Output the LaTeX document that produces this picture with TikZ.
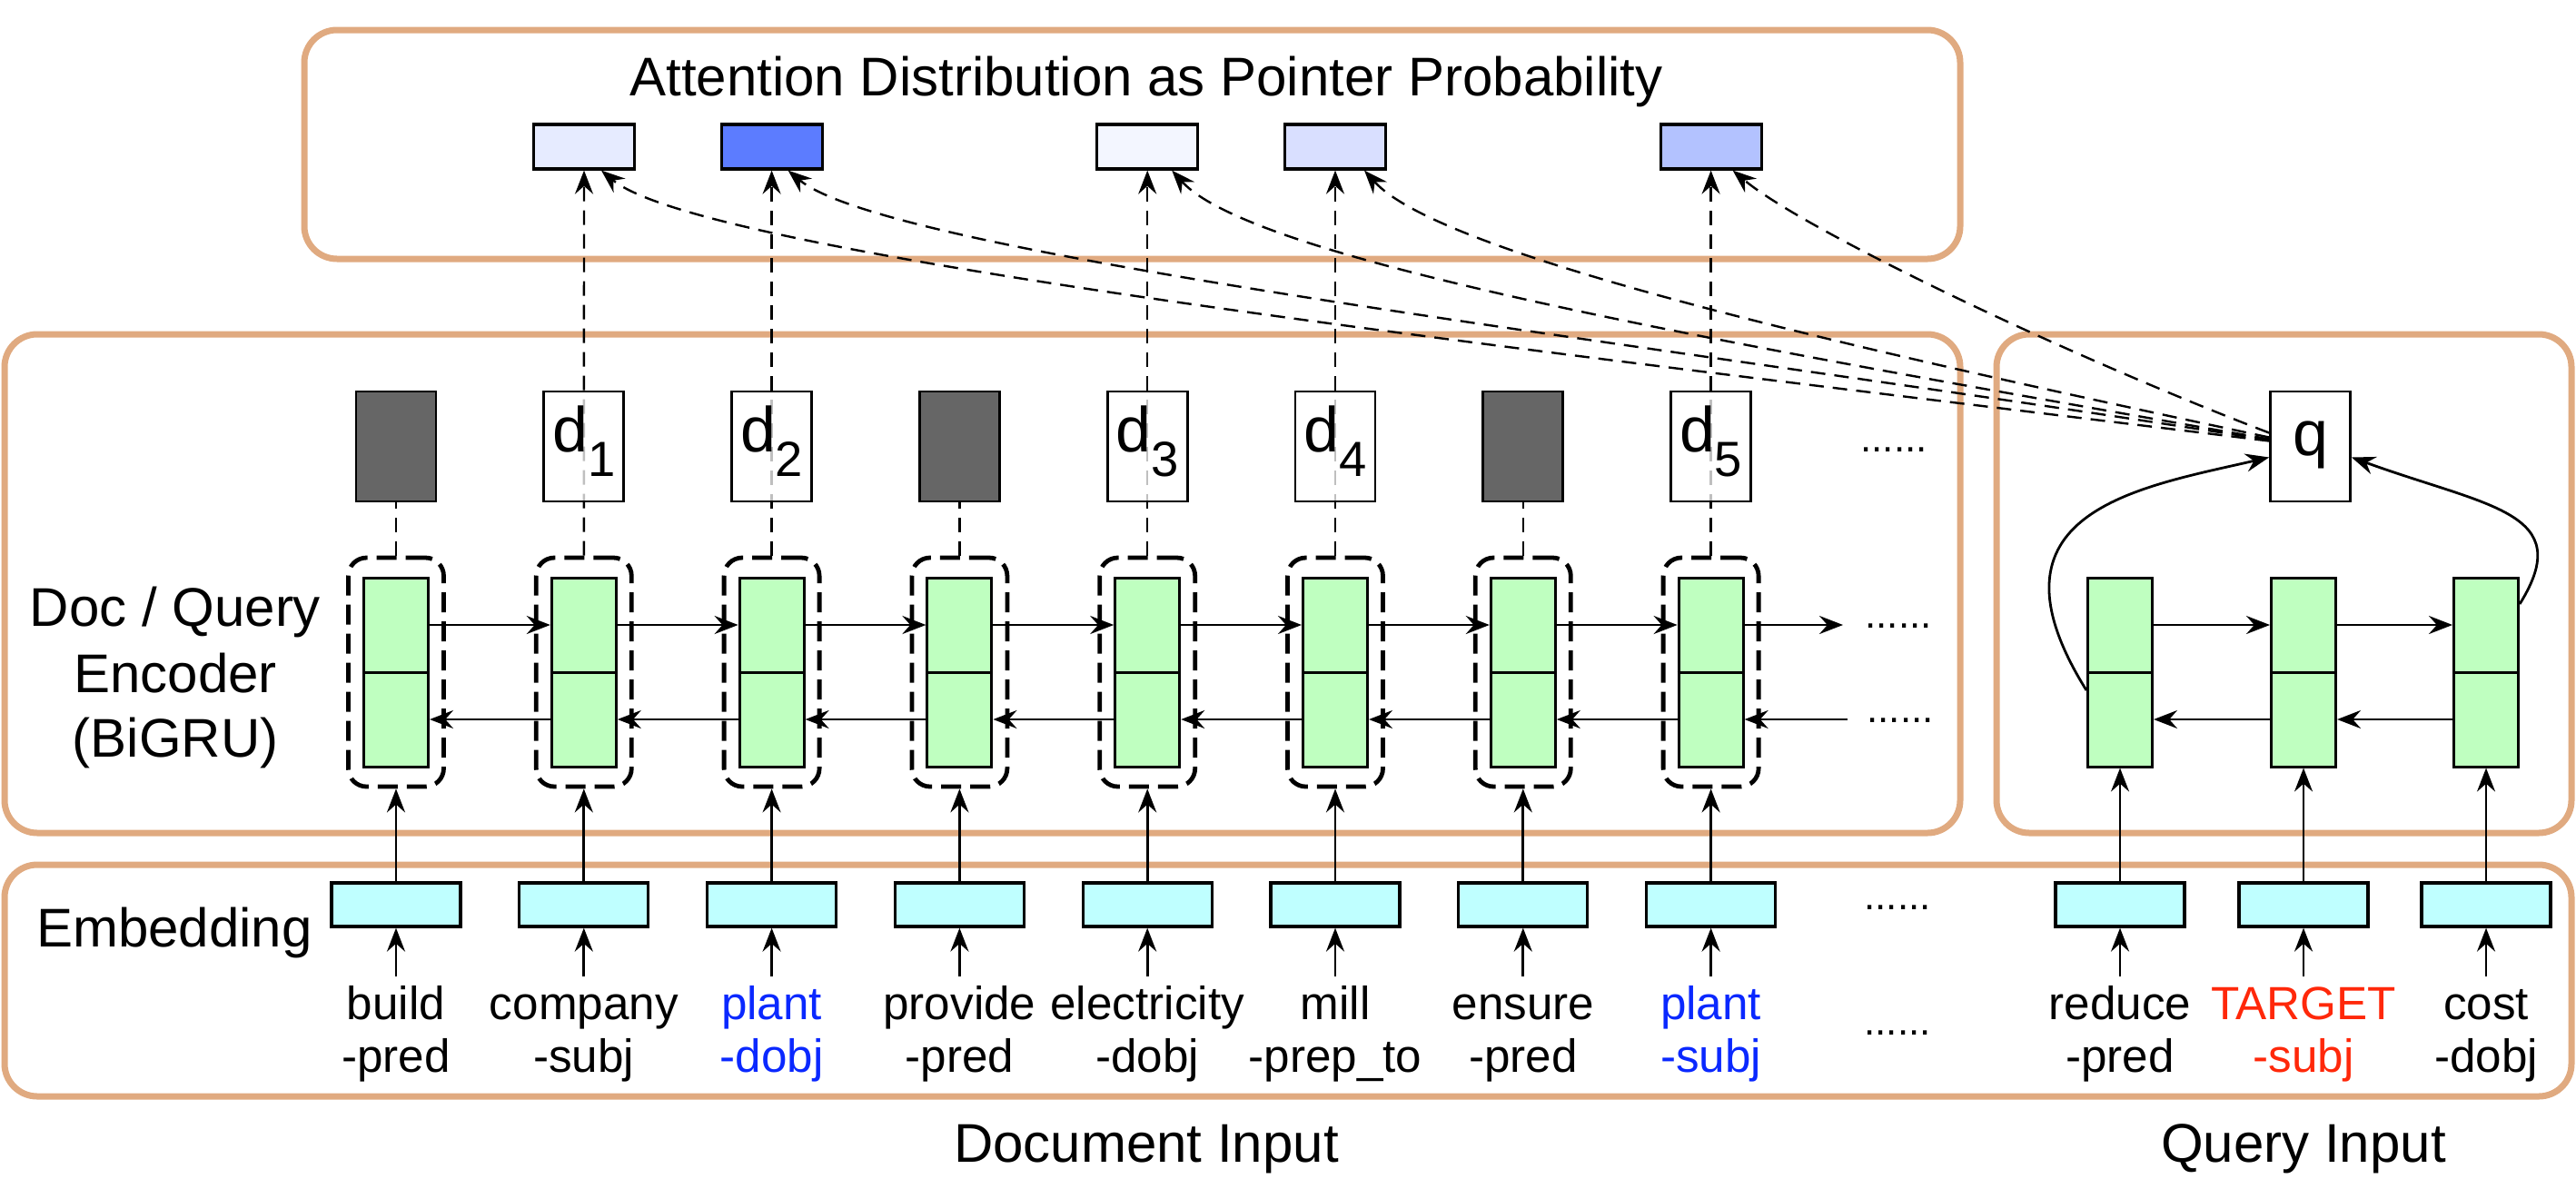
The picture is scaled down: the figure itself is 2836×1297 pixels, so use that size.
\documentclass[tikz,border=0pt]{standalone}
\usepackage{fontspec}
\setmainfont{Liberation Sans}
\usetikzlibrary{arrows.meta,calc}
\definecolor{frameorange}{RGB}{224,170,128}
\definecolor{cellgreen}{RGB}{191,255,192}
\definecolor{embcyan}{RGB}{191,255,255}
\definecolor{darkcell}{RGB}{102,102,102}
\definecolor{wordblue}{RGB}{10,40,255}
\definecolor{wordred}{RGB}{255,40,10}
\definecolor{attA}{RGB}{230,235,255}
\definecolor{attB}{RGB}{92,124,255}
\definecolor{attC}{RGB}{243,246,255}
\definecolor{attD}{RGB}{217,223,255}
\definecolor{attE}{RGB}{179,194,255}
\newcommand{\hsub}[2]{{\fontsize{17.5}{20}\selectfont #1\raisebox{-6.75pt}{\fontsize{13.6}{16}\selectfont #2}}}
\begin{document}
\begin{tikzpicture}[x=0.25pt,y=0.25pt,
  frame/.style={draw=frameorange,line width=1.75pt,rounded corners=9pt},
  tip/.style={-{Stealth[length=6.5pt,width=5pt,inset=2.2pt]}},
  conn/.style={line width=0.7pt,tip},
  vdash/.style={line width=0.6pt,dash pattern=on 4pt off 2.5pt},
  attbox/.style={draw,line width=0.8pt,minimum width=27.75pt,minimum height=12.25pt,inner sep=0pt},
  hbox/.style={draw,line width=0.7pt,minimum width=22pt,minimum height=30.25pt,inner sep=0pt},
  darkbox/.style={hbox,fill=darkcell},
  encbox/.style={hbox,fill=white,fill opacity=0.75,draw opacity=1},
  cell/.style={draw,fill=cellgreen,line width=0.75pt,minimum width=17.75pt,minimum height=52pt,inner sep=0pt},
  cellwrap/.style={draw,dash pattern=on 5.5pt off 2.5pt,line width=1.2pt,rounded corners=5pt,minimum width=26.25pt,minimum height=63pt,inner sep=0pt},
  emb/.style={draw,fill=embcyan,line width=0.8pt,minimum width=35.5pt,minimum height=12pt,inner sep=0pt},
  word/.style={font=\fontsize{12.8}{15}\selectfont,anchor=base,inner sep=0pt},
  lbl/.style={font=\fontsize{15}{18}\selectfont,anchor=base,inner sep=0pt},
  dots/.style={font=\fontsize{11}{13}\selectfont,anchor=base,inner sep=0pt},
  hlab/.style={anchor=base,inner sep=0pt}
]
\useasboundingbox (0,0) rectangle (2836,-1297);

% containers
\draw[frame] (335,-33) rectangle (2158,-285);
\draw[frame] (5,-368) rectangle (2158,-917);
\draw[frame] (2198,-368) rectangle (2831,-917);
\draw[frame] (5,-952) rectangle (2831,-1207);

% texts of the containers
\node[lbl] (title) at (1262,-105) {Attention Distribution as Pointer Probability};
\node[lbl] (enc1) at (193,-689) {Doc / Query};
\node[lbl] (enc2) at (193,-762) {Encoder};
\node[lbl] (enc3) at (193,-833) {(BiGRU)};
\node[lbl] (embl) at (192,-1042) {Embedding};
\node[lbl] (docin) at (1262,-1279) {Document Input};
\node[lbl] (qin) at (2536,-1279) {Query Input};

% attention boxes
\node[attbox,fill=attA] (a1) at (643,-161.5) {};
\node[attbox,fill=attB] (a2) at (849.6,-161.5) {};
\node[attbox,fill=attC] (a3) at (1263.2,-161.5) {};
\node[attbox,fill=attD] (a4) at (1470,-161.5) {};
\node[attbox,fill=attE] (a5) at (1883.6,-161.5) {};

% document columns: embedding, BiGRU cell, hidden state
\foreach \i/\x in {0/436,1/642.8,2/849.6,3/1056.4,4/1263.2,5/1470,6/1676.8,7/1883.6}{
  \node[emb] (e\i) at (\x,-996) {};
  \node[cellwrap] (w\i) at (\x,-740) {};
  \node[cell] (c\i) at (\x,-740) {};
  \draw[line width=0.75pt] (c\i.west) -- (c\i.east);
  \draw[conn] (e\i.north) -- (w\i.south);
}

% hidden states: masked ones and d_1 ... d_5
\foreach \i in {0,3,6}{
  \node[darkbox] (h\i) at (w\i |- 0,-491.5) {};
  \draw[vdash] (w\i.north) -- (h\i.south);
}
\foreach \i/\k in {1/1,2/2,4/3,5/4,7/5}{
  \draw[vdash,tip] (w\i.north) -- (a\k.south);
  \node[encbox] (h\i) at (w\i |- 0,-491.5) {};
  \node[hlab] (hl\i) at (h\i |- 0,-497) {\hsub{d}{\k}};
}

% forward and backward recurrences
\foreach \i/\j in {0/1,1/2,2/3,3/4,4/5,5/6,6/7}{
  \draw[conn] ($(c\i.east)+(0,52)$) -- ($(c\j.west)+(0,52)$);
  \draw[conn] ($(c\j.west)+(0,-52)$) -- ($(c\i.east)+(0,-52)$);
}
\coordinate (fend) at (2029,-688);
\coordinate (bstart) at (2034,-792);
\draw[conn] ($(c7.east)+(0,52)$) -- (fend);
\draw[conn] (bstart) -- ($(c7.east)+(0,-52)$);
\node[dots] (dh) at (2085,-497) {......};
\node[dots] (df) at (2090,-691) {......};
\node[dots] (db) at (2092,-795) {......};
\node[dots] (de) at (2089,-1001) {......};
\node[dots] (dw) at (2089,-1139) {......};

% document words
\foreach \i/\x/\ta/\tb/\col in {
  0/436/build/-pred/black,
  1/642.8/company/-subj/black,
  2/849.6/plant/-dobj/wordblue,
  3/1056.4/provide/-pred/black,
  4/1263.2/electricity/-dobj/black,
  5/1470/mill/-prep\_to/black,
  6/1676.8/ensure/-pred/black,
  7/1883.6/plant/-subj/wordblue}{
  \node[word,text=\col] (t\i) at (\x,-1122) {\ta};
  \node[word,text=\col] (u\i) at (\x,-1180) {\tb};
  \draw[conn] ($(t\i.base)+(0,47)$) -- (e\i.south);
}

% query side
\node[hbox,fill=white] (q) at (2543.5,-491.5) {};
\node[hlab,font=\fontsize{17.5}{20}\selectfont] (ql) at (2543.5,-501) {q};
\foreach \i/\x/\ta/\tb/\col in {
  1/2334/reduce/-pred/black,
  2/2536/TARGET/-subj/wordred,
  3/2737/cost/-dobj/black}{
  \node[emb] (qe\i) at (\x,-996) {};
  \node[cell] (qc\i) at (\x,-740) {};
  \draw[line width=0.75pt] (qc\i.west) -- (qc\i.east);
  \draw[conn] (qe\i.north) -- (qc\i.south);
  \node[word,text=\col] (qt\i) at (\x,-1122) {\ta};
  \node[word,text=\col] (qu\i) at (\x,-1180) {\tb};
  \draw[conn] ($(qt\i.base)+(0,47)$) -- (qe\i.south);
}
\foreach \i/\j in {1/2,2/3}{
  \draw[conn] ($(qc\i.east)+(0,52)$) -- ($(qc\j.west)+(0,52)$);
  \draw[conn] ($(qc\j.west)+(0,-52)$) -- ($(qc\i.east)+(0,-52)$);
}
\draw[conn] ($(qc1.west)+(0,-20)$) to[out=122,in=193,out distance=58pt,in distance=37pt] ($(q.west)+(0,-12)$);
\draw[conn] ($(qc3.east)+(0,75)$) to[out=58,in=-20,out distance=30pt,in distance=40pt] ($(q.east)+(0,-12)$);

% attention from the query to each candidate
\draw[vdash,tip] ($(q.west)+(0,6)$) to[out=173,in=-40,out distance=200pt,in distance=37pt] ($(a1.south)+(19,0)$);
\draw[vdash,tip] ($(q.west)+(0,7)$) to[out=171,in=-40,out distance=165pt,in distance=37pt] ($(a2.south)+(18,0)$);
\draw[vdash,tip] ($(q.west)+(0,8)$) to[out=170,in=-48,out distance=137pt,in distance=35pt] ($(a3.south)+(27,0)$);
\draw[vdash,tip] ($(q.west)+(0,10)$) to[out=168,in=-48,out distance=112pt,in distance=32pt] ($(a4.south)+(32,0)$);
\draw[vdash,tip] ($(q.west)+(0,15)$) to[out=159,in=-40,out distance=62pt,in distance=25pt] ($(a5.south)+(24,0)$);
\end{tikzpicture}
\end{document}
